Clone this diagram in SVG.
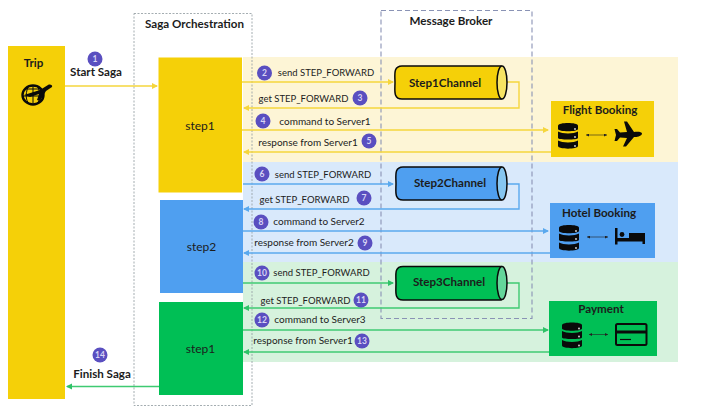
<svg xmlns="http://www.w3.org/2000/svg" width="710" height="407" viewBox="0 0 710 407">
<style>
text{font-family:"Lato","Liberation Sans",sans-serif;fill:#1c1c1c}
.t{font-size:10px;text-anchor:middle}
.s{font-size:9.500px;text-anchor:middle}
.b{font-size:11.600px;font-weight:700;text-anchor:middle}
.n{font-size:12px;text-anchor:middle}
.num{font-size:8.500px;font-weight:700;text-anchor:middle;fill:#d8d4f4}
.bd{fill:#5a4fc0}
.c{fill:none;stroke-width:1.400}
.y{stroke:#f5d63d}.bl{stroke:#5aa9ee}.g{stroke:#3fca72}
.k{fill:#0a0a0a}
.tiny{stroke:#222;stroke-width:.6;fill:none;marker-start:url(#ts);marker-end:url(#te)}
</style>
<defs>
<marker id="ay" markerWidth="7" markerHeight="7" refX="5" refY="3" orient="auto-start-reverse" markerUnits="userSpaceOnUse"><path d="M0 0L6 3L0 6z" fill="#f5d63d"/></marker>
<marker id="ab" markerWidth="7" markerHeight="7" refX="5" refY="3" orient="auto-start-reverse" markerUnits="userSpaceOnUse"><path d="M0 0L6 3L0 6z" fill="#5aa9ee"/></marker>
<marker id="ag" markerWidth="7" markerHeight="7" refX="5" refY="3" orient="auto-start-reverse" markerUnits="userSpaceOnUse"><path d="M0 0L6 3L0 6z" fill="#2fc268"/></marker>
<marker id="te" markerWidth="4" markerHeight="4" refX="3" refY="1.500" orient="auto" markerUnits="userSpaceOnUse"><path d="M0 0L3 1.500L0 3z" fill="#222"/></marker>
<marker id="ts" markerWidth="4" markerHeight="4" refX="0" refY="1.500" orient="auto" markerUnits="userSpaceOnUse"><path d="M3 0L0 1.500L3 3z" fill="#222"/></marker>
<g id="db">
<path class="k" d="M0 3.500C0 0 20 0 20 3.500V7C20 10 0 10 0 7z"/>
<path class="k" d="M0 9.500C4 12 16 12 20 9.500V16C20 18 0 18 0 16z"/>
<path class="k" d="M0 18.500C4 21 16 21 20 18.500V24C20 27.500 0 27.500 0 24z"/>
<circle cx="17" cy="7" r=".9" fill="#ddd"/><circle cx="17" cy="15" r=".9" fill="#ddd"/><circle cx="17" cy="24" r=".9" fill="#ddd"/>
</g>
</defs>

<g id="bands">
<rect x="243" y="57" width="435" height="105" fill="#fdf5d6"/>
<rect x="243" y="162" width="435" height="100" fill="#d9e9fb"/>
<rect x="243" y="262" width="435" height="100" fill="#d6f2dd"/>
</g>

<g id="saga-orchestration">
<rect x="134" y="13.500" width="118" height="392" fill="none" stroke="#9aa4a8" stroke-width=".9" stroke-dasharray="2 1.500"/>
<text class="b" x="194.500" y="28">Saga Orchestration</text>
</g>

<g id="message-broker">
<rect x="381" y="10.500" width="151" height="308" fill="none" stroke="#8a93b5" stroke-width="1.100" stroke-dasharray="5 3"/>
<text class="b" x="451" y="25">Message Broker</text>
</g>

<g id="trip">
<rect x="8" y="46" width="57" height="353" fill="#f5d008"/>
<text class="b" x="33.500" y="67">Trip</text>
<ellipse cx="33" cy="95" rx="10.500" ry="9.500" fill="none" stroke="#0a0a0a" stroke-width="2.400"/>
<path d="M25 89H42M23 96H43M33 86V104M28 87C25 95 26 100 29 104M38 87C41 95 40 100 37 104" fill="none" stroke="#0a0a0a" stroke-width="1"/>
<path class="k" d="M24 95L40 90L48 85C50 84 53 85 52 87L46 91L40 101L37 100L39 94L30 97z"/>
</g>

<g id="step1-a">
<rect x="158.500" y="57.500" width="83.500" height="135" fill="#f5d008"/>
<text class="n" x="200" y="130">step1</text>
</g>
<g id="step2">
<rect x="160" y="200" width="83" height="93" fill="#4f9ff0"/>
<text class="n" x="201.500" y="251">step2</text>
</g>
<g id="step1-b">
<rect x="159" y="302" width="84" height="93" fill="#00bf55"/>
<text class="n" x="200.500" y="353">step1</text>
</g>

<g id="connectors">
<path class="c y" d="M65 86H157" marker-end="url(#ay)"/>
<path class="c y" d="M242 82H393" marker-end="url(#ay)"/>
<path class="c y" d="M507 82H519V108H244" marker-end="url(#ay)"/>
<path class="c y" d="M242 130H548" marker-end="url(#ay)"/>
<path class="c y" d="M551 152H244" marker-end="url(#ay)"/>
<path class="c bl" d="M243 184H393" marker-end="url(#ab)"/>
<path class="c bl" d="M507 184H519V209H244" marker-end="url(#ab)"/>
<path class="c bl" d="M243 231H548" marker-end="url(#ab)"/>
<path class="c bl" d="M550 253H244" marker-end="url(#ab)"/>
<path class="c g" d="M243 283H393" marker-end="url(#ag)"/>
<path class="c g" d="M507 283H519V308H244" marker-end="url(#ag)"/>
<path class="c g" d="M243 330H548" marker-end="url(#ag)"/>
<path class="c g" d="M549 352H244" marker-end="url(#ag)"/>
<path class="c g" d="M159 386.500H67" marker-end="url(#ag)"/>
</g>

<g id="step1-channel">
<path d="M402 66H501V99H402C393 99 395 90 395 82.500C395 75 393 66 402 66z" fill="#f5d008" stroke="#0a0a0a" stroke-width="1.500"/>
<ellipse cx="502" cy="82.500" rx="5" ry="16.500" fill="#f7e463" stroke="#0a0a0a" stroke-width="1.500"/>
<text class="b" x="445" y="87">Step1Channel</text>
</g>
<g id="step2-channel">
<path d="M403 167H501V200H403C394 200 396 191 396 183.500C396 176 394 167 403 167z" fill="#4f9ff0" stroke="#0a0a0a" stroke-width="1.500"/>
<ellipse cx="502" cy="183.500" rx="5" ry="16.500" fill="#86c6f0" stroke="#0a0a0a" stroke-width="1.500"/>
<text class="b" x="450" y="187">Step2Channel</text>
</g>
<g id="step3-channel">
<path d="M403 266.500H501V300H403C394 300 396 291 396 283C396 275 394 266.500 403 266.500z" fill="#00bf55" stroke="#0a0a0a" stroke-width="1.500"/>
<ellipse cx="502" cy="283" rx="5" ry="16.500" fill="#64d69a" stroke="#0a0a0a" stroke-width="1.500"/>
<text class="b" x="449" y="286">Step3Channel</text>
</g>

<g id="flight-booking">
<rect x="551" y="101" width="103" height="56" fill="#f5d008"/>
<text class="b" x="600" y="114">Flight Booking</text>
<use href="#db" x="558" y="122"/>
<path class="tiny" d="M586 135H607"/>
<path class="k" d="M642 133.500C642 131.500 637 131.500 634 132L627 121.500L624 121.500L627 132L620 132.500L617 129L614.500 129L616 135L614.500 141L617 141L620 137.500L627 138L623 146.500L626 146.500L634 137C637 137.500 642 136 642 133.500z"/>
</g>
<g id="hotel-booking">
<rect x="550" y="203" width="105" height="55" fill="#4f9ff0"/>
<text class="b" x="599" y="217">Hotel Booking</text>
<use href="#db" x="559" y="224"/>
<path class="tiny" d="M587 237H608"/>
<path class="k" d="M615 228H617.500V238H629V233H645V244H642.500V241.500H617.500V244.500H615z"/>
<circle cx="622" cy="234.500" r="2.400" fill="#0a0a0a"/>
</g>
<g id="payment">
<rect x="549" y="301" width="108" height="55" fill="#00bf55"/>
<text class="b" x="601" y="313">Payment</text>
<use href="#db" x="562" y="321.500"/>
<path class="tiny" d="M589 334.500H608"/>
<rect x="616" y="324" width="30.500" height="21" rx="1.500" fill="none" stroke="#0a0a0a" stroke-width="2"/>
<rect x="616" y="330.500" width="30.500" height="3" fill="#0a0a0a"/>
<path d="M620 339.500H631" stroke="#0a0a0a" stroke-width="1.200"/>
</g>

<g id="labels">
<text class="b" x="96" y="76">Start Saga</text>
<text class="b" x="102" y="378">Finish Saga</text>
<text class="s" x="326" y="76">send STEP_FORWARD</text>
<text class="s" x="303.500" y="102">get STEP_FORWARD</text>
<text class="t" x="325" y="125">command to Server1</text>
<text class="t" x="308" y="146">response from Server1</text>
<text class="s" x="323" y="178">send STEP_FORWARD</text>
<text class="s" x="304.500" y="203">get STEP_FORWARD</text>
<text class="t" x="319" y="225">command to Server2</text>
<text class="t" x="304" y="246">response from Server2</text>
<text class="s" x="321.500" y="276">send STEP_FORWARD</text>
<text class="s" x="305.500" y="304">get STEP_FORWARD</text>
<text class="t" x="320" y="323">command to Server3</text>
<text class="t" x="303" y="344">response from Server1</text>
</g>

<g id="badges">
<circle class="bd" cx="95" cy="59" r="7.500"/><text class="num" x="95" y="62">1</text>
<circle class="bd" cx="264.500" cy="73" r="7.500"/><text class="num" x="264.500" y="76">2</text>
<circle class="bd" cx="360" cy="98" r="7.500"/><text class="num" x="360" y="101">3</text>
<circle class="bd" cx="263" cy="121" r="7.500"/><text class="num" x="263" y="124">4</text>
<circle class="bd" cx="369" cy="141" r="7.500"/><text class="num" x="369" y="144">5</text>
<circle class="bd" cx="262" cy="174" r="7.500"/><text class="num" x="262" y="177">6</text>
<circle class="bd" cx="364" cy="198" r="7.500"/><text class="num" x="364" y="201">7</text>
<circle class="bd" cx="261" cy="222" r="7.500"/><text class="num" x="261" y="225">8</text>
<circle class="bd" cx="365" cy="243" r="7.500"/><text class="num" x="365" y="246">9</text>
<circle class="bd" cx="262" cy="273" r="7.500"/><text class="num" x="262" y="276">10</text>
<circle class="bd" cx="361" cy="300" r="7.500"/><text class="num" x="361" y="303">11</text>
<circle class="bd" cx="262" cy="320" r="7.500"/><text class="num" x="262" y="323">12</text>
<circle class="bd" cx="362" cy="341" r="7.500"/><text class="num" x="362" y="344">13</text>
<circle class="bd" cx="100" cy="355" r="7.500"/><text class="num" x="100" y="358">14</text>
</g>
</svg>
